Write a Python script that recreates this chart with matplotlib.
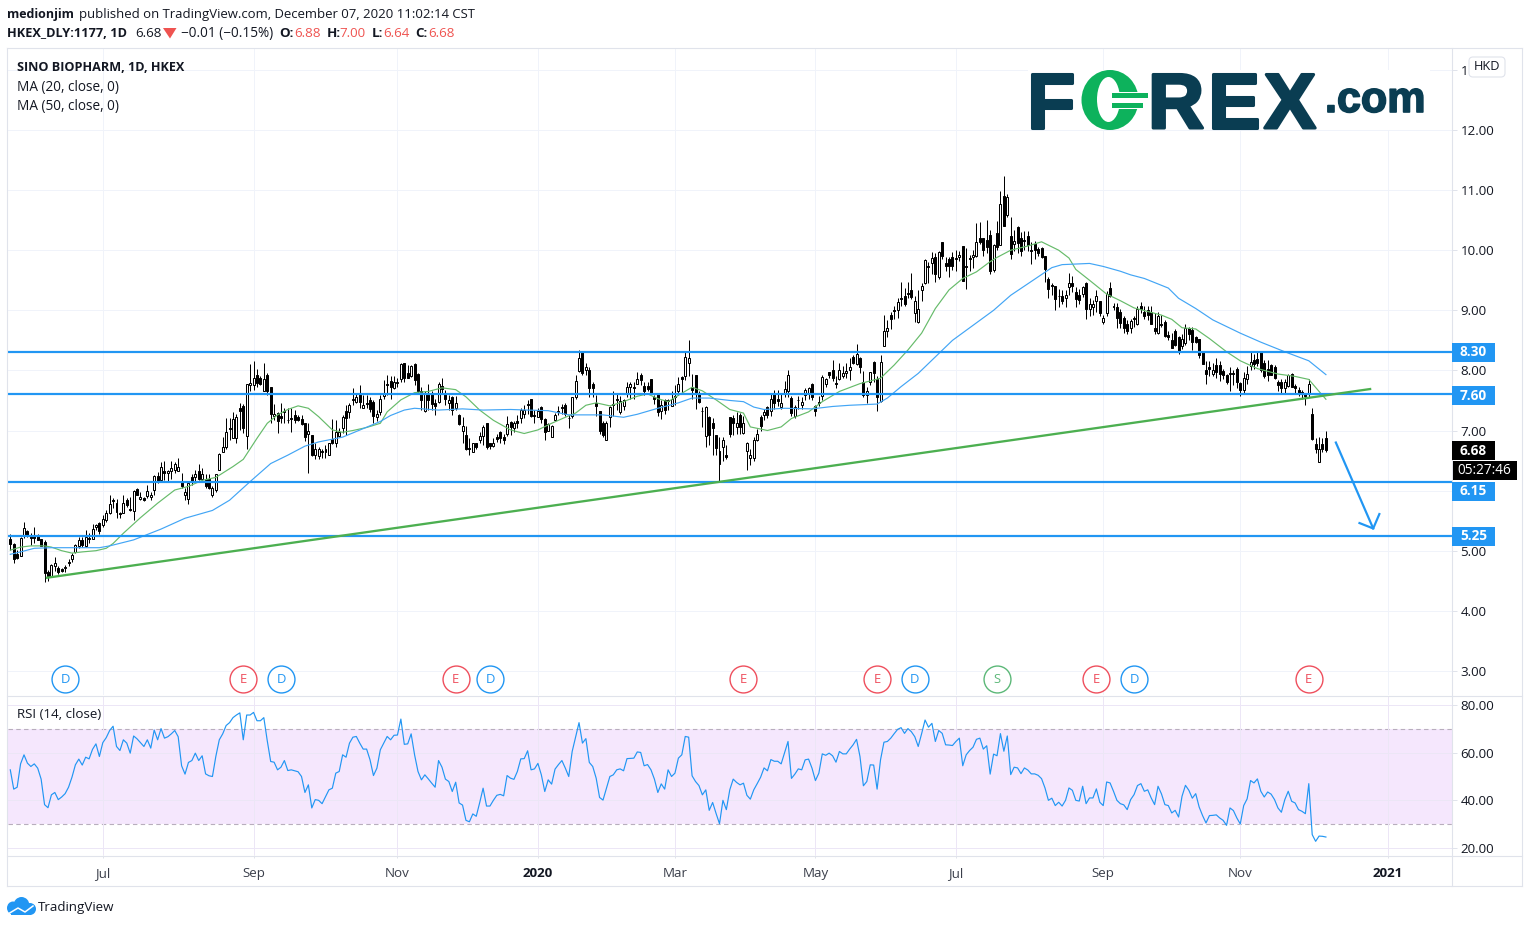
import numpy as np
import matplotlib
matplotlib.use("Agg")
import matplotlib.pyplot as plt
from matplotlib.patches import Ellipse, Rectangle, FancyBboxPatch, Polygon
import matplotlib.patheffects as pe

plt.rcParams['font.family'] = ['Open Sans', 'DejaVu Sans']

# daily candles, one value per bar
opens = [5.19,5.11,4.95,4.92,5.24,5.32,5.26,5.26,5.26,5.19,
         5.15,4.65,4.58,4.75,4.72,4.70,4.72,4.81,4.87,4.98,
         5.07,5.17,5.07,5.21,5.20,5.39,5.46,5.42,5.51,5.62,
         5.85,5.79,5.62,5.63,5.85,5.70,5.66,6.02,5.86,5.87,
         5.91,5.89,6.01,6.25,6.18,6.33,6.29,6.33,6.35,6.33,
         6.14,5.92,5.86,6.22,6.22,6.33,6.20,6.20,6.20,5.92,
         6.01,6.35,6.65,6.73,7.04,6.88,6.88,7.38,7.40,6.91,
         7.76,7.76,7.92,7.87,7.66,7.93,7.72,7.24,7.29,7.24,
         7.32,7.18,7.20,7.25,7.23,7.19,7.12,6.95,6.92,6.59,
         6.58,6.64,6.65,6.59,6.86,6.79,6.91,7.05,7.33,7.31,
         7.50,7.47,7.62,7.38,7.45,7.51,7.47,7.22,7.30,7.58,
         7.77,7.83,7.70,7.80,7.85,8.13,7.95,7.91,8.10,7.94,
         7.65,7.32,7.63,7.63,7.46,7.48,7.74,7.63,7.46,7.56,
         7.38,7.26,7.00,6.92,6.71,6.65,6.79,6.85,6.91,7.12,
         6.79,6.75,6.89,6.98,6.89,6.94,7.14,7.05,7.16,7.21,
         7.28,7.44,7.52,7.26,7.23,7.39,7.19,7.00,6.90,7.17,
         7.32,7.39,7.42,7.21,7.24,7.56,7.99,8.30,8.01,8.00,
         7.78,7.45,7.32,7.12,6.85,7.23,7.44,7.52,7.31,7.41,
         7.63,7.72,7.72,7.78,7.92,7.74,7.74,7.85,7.55,7.62,
         7.33,7.51,7.51,7.41,7.57,7.65,7.89,7.91,8.13,7.72,
         7.92,7.63,7.33,6.91,7.22,7.12,6.93,6.66,6.73,6.59,
         7.22,7.20,7.06,7.25,6.96,6.66,6.55,6.55,6.85,7.23,
         7.26,7.39,7.32,7.61,7.52,7.39,7.63,7.65,7.54,7.24,
         7.50,7.43,7.59,7.63,7.78,7.40,7.47,7.58,7.78,7.97,
         8.01,7.79,7.85,7.91,7.96,8.01,8.22,8.11,8.20,7.81,
         7.59,7.80,8.14,7.85,7.49,8.41,8.66,8.93,9.00,9.00,
         9.21,9.23,9.28,9.34,8.96,8.80,9.33,9.46,9.73,9.79,
         9.88,9.55,10.13,9.79,9.86,9.88,9.87,9.89,10.07,9.73,
         9.87,9.88,9.90,10.21,10.20,10.17,10.25,9.67,10.28,10.09,
         10.90,10.58,10.24,10.10,10.38,10.20,10.17,10.24,10.00,10.10,
         10.02,10.04,9.90,9.52,9.42,9.40,9.24,9.23,9.20,9.38,
         9.45,9.31,9.25,9.27,9.46,9.02,9.05,9.16,9.15,8.80,
         8.96,9.37,9.07,9.05,8.98,8.87,8.78,8.70,8.87,8.78,
         9.07,8.98,9.00,8.98,8.71,8.62,8.78,8.81,8.59,8.51,
         8.66,8.56,8.40,8.45,8.70,8.67,8.55,8.52,8.31,8.00,
         8.05,7.94,8.09,8.09,7.99,7.92,7.94,7.95,8.03,7.79,
         7.68,7.85,8.07,8.17,8.19,8.30,8.12,8.03,8.09,8.06,
         7.81,7.81,7.70,7.74,7.94,7.74,7.68,7.64,7.61,7.63,
         7.27,6.78,6.48,6.78,6.88]
highs = [5.27,5.12,5.01,5.23,5.48,5.35,5.30,5.40,5.27,5.20,
         5.18,4.68,4.78,4.89,4.75,4.71,4.77,4.86,4.96,5.11,
         5.22,5.23,5.35,5.30,5.45,5.45,5.48,5.59,5.68,5.92,
         5.87,5.86,5.65,5.93,5.87,5.90,6.01,6.04,5.98,5.90,
         6.09,5.98,6.26,6.31,6.47,6.50,6.35,6.50,6.48,6.55,
         6.29,6.04,6.15,6.27,6.34,6.44,6.37,6.27,6.28,6.07,
         6.28,6.62,6.89,7.20,7.20,7.30,7.27,7.46,7.44,7.78,
         8.11,8.16,8.03,7.90,8.12,7.95,7.73,7.44,7.31,7.46,
         7.37,7.37,7.37,7.34,7.26,7.25,7.13,7.12,6.93,6.80,
         6.72,6.70,6.76,6.80,7.19,7.17,7.04,7.26,7.42,7.45,
         7.71,7.62,7.76,7.59,7.59,7.55,7.51,7.34,7.59,7.84,
         7.92,7.91,7.91,7.87,8.13,8.13,8.09,8.09,8.12,7.95,
         7.73,7.65,7.78,7.66,7.53,7.80,7.88,7.67,7.59,7.57,
         7.57,7.27,7.22,7.07,6.87,6.80,6.80,6.98,7.09,7.13,
         6.80,6.87,6.94,7.00,6.95,7.24,7.15,7.16,7.26,7.37,
         7.42,7.51,7.52,7.34,7.37,7.41,7.20,7.13,7.09,7.29,
         7.40,7.44,7.46,7.26,7.56,7.92,8.34,8.31,8.13,8.06,
         7.81,7.59,7.32,7.15,7.15,7.41,7.66,7.62,7.57,7.53,
         7.81,7.81,7.80,7.98,7.95,7.81,7.81,7.85,7.59,7.63,
         7.51,7.52,7.53,7.65,7.76,7.89,7.90,8.30,8.51,7.94,
         7.93,7.65,7.39,7.40,7.24,7.20,6.93,6.90,6.90,6.76,
         7.22,7.26,7.31,7.29,7.24,6.81,6.70,6.90,7.02,7.25,
         7.36,7.40,7.62,7.67,7.67,7.61,7.82,8.00,7.57,7.43,
         7.57,7.55,7.71,7.72,7.79,7.43,7.57,7.92,7.87,7.98,
         8.17,7.90,8.12,8.07,8.12,8.20,8.25,8.44,8.22,7.99,
         7.72,7.98,8.15,7.90,8.26,8.92,8.84,8.97,9.08,9.20,
         9.47,9.37,9.47,9.62,9.23,9.33,9.45,9.85,9.80,9.97,
         9.95,9.99,10.14,9.88,9.89,9.97,10.00,9.98,10.07,10.03,
         9.92,10.01,10.45,10.47,10.20,10.50,10.33,10.10,10.49,10.99,
         11.23,10.93,10.56,10.34,10.41,10.30,10.32,10.32,10.13,10.15,
         10.05,10.06,9.90,9.55,9.45,9.41,9.36,9.34,9.34,9.62,
         9.57,9.38,9.36,9.40,9.47,9.20,9.17,9.33,9.16,8.92,
         9.32,9.47,9.12,9.12,9.02,8.90,8.84,8.86,8.90,9.07,
         9.14,9.07,9.08,9.07,8.95,8.98,8.93,8.84,8.65,8.62,
         8.69,8.58,8.60,8.78,8.73,8.72,8.58,8.53,8.32,8.15,
         8.15,8.12,8.20,8.16,8.02,7.94,8.05,8.00,8.05,7.80,
         7.98,8.08,8.32,8.27,8.31,8.31,8.18,8.18,8.10,8.09,
         7.84,7.85,7.85,7.94,7.95,7.78,7.72,7.68,7.63,7.85,
         7.37,6.87,6.89,6.87,7.00]
lows = [5.02,4.80,4.86,4.91,5.21,5.23,5.10,5.12,5.17,5.07,
        4.48,4.50,4.56,4.67,4.62,4.65,4.65,4.75,4.82,4.97,
        5.05,5.06,5.06,5.12,5.19,5.35,5.28,5.40,5.48,5.61,
        5.71,5.54,5.54,5.62,5.73,5.66,5.51,5.92,5.84,5.83,
        5.87,5.84,5.93,6.13,6.17,6.18,6.15,6.19,6.29,6.33,
        6.05,5.84,5.77,6.09,6.15,6.18,6.15,6.04,6.02,5.90,
        5.97,6.34,6.64,6.70,6.84,6.87,6.80,7.01,6.96,6.70,
        7.65,7.67,7.72,7.76,7.65,7.59,7.13,7.17,6.96,7.12,
        7.12,7.12,6.97,7.12,7.15,7.09,6.83,6.30,6.58,6.52,
        6.52,6.55,6.55,6.59,6.78,6.72,6.90,6.96,6.93,7.20,
        7.43,7.45,7.37,7.37,7.37,7.31,7.12,7.15,7.26,7.53,
        7.59,7.53,7.69,7.73,7.80,7.81,7.87,7.89,7.76,7.62,
        7.34,7.31,7.34,7.34,7.26,7.46,7.62,7.42,7.34,7.26,
        7.34,7.09,6.80,6.68,6.60,6.64,6.70,6.79,6.76,6.70,
        6.69,6.73,6.81,6.79,6.78,6.91,6.93,6.98,7.04,7.12,
        7.20,7.28,7.23,7.13,7.22,7.12,6.85,6.99,6.89,7.15,
        7.26,7.27,7.24,7.05,7.20,7.53,7.97,7.93,7.92,7.56,
        7.56,7.24,6.95,6.90,6.84,7.06,7.24,7.34,7.28,7.34,
        7.56,7.53,7.53,7.77,7.76,7.59,7.65,7.61,7.44,7.24,
        7.19,7.28,7.34,7.40,7.42,7.59,7.62,7.84,7.90,7.53,
        7.35,7.46,7.06,6.73,6.76,6.59,6.59,6.15,6.50,6.53,
        6.90,6.93,6.95,6.95,6.94,6.34,6.42,6.50,6.82,7.00,
        7.17,7.20,7.24,7.36,7.40,7.36,7.55,7.55,7.24,7.20,
        7.36,7.36,7.50,7.52,7.50,7.24,7.40,7.50,7.72,7.88,
        7.83,7.71,7.84,7.87,7.88,7.84,8.10,8.09,7.95,7.55,
        7.45,7.75,7.80,7.33,7.47,8.40,8.56,8.69,8.85,8.88,
        9.08,9.07,9.20,9.18,8.80,8.79,9.15,9.44,9.46,9.60,
        9.47,9.52,9.85,9.65,9.55,9.67,9.65,9.82,9.49,9.36,
        9.65,9.70,9.88,10.10,9.90,9.95,9.60,9.64,10.00,10.08,
        10.40,10.55,9.86,9.99,9.95,9.90,10.00,9.99,9.77,9.85,
        9.90,9.87,9.47,9.20,9.25,9.00,9.05,9.10,9.05,9.25,
        9.30,9.05,9.11,9.22,8.85,8.90,8.92,8.98,8.90,8.78,
        8.90,9.22,9.00,8.70,8.70,8.62,8.60,8.62,8.72,8.76,
        8.95,8.85,8.84,8.78,8.60,8.60,8.72,8.55,8.50,8.37,
        8.40,8.28,8.35,8.43,8.50,8.34,8.45,8.20,8.10,7.77,
        7.90,7.90,7.87,7.83,7.85,7.77,7.66,7.76,7.70,7.58,
        7.60,7.78,8.00,8.03,8.08,7.98,7.87,7.82,7.92,7.86,
        7.65,7.63,7.63,7.72,7.72,7.62,7.58,7.53,7.42,7.56,
        6.85,6.63,6.48,6.65,6.64]
closes = [5.11,4.87,4.88,5.21,5.37,5.26,5.21,5.21,5.18,5.08,
          4.63,4.58,4.76,4.79,4.65,4.67,4.73,4.79,4.93,5.09,
          5.17,5.09,5.22,5.20,5.36,5.42,5.32,5.52,5.62,5.77,
          5.83,5.65,5.61,5.80,5.76,5.67,5.99,5.93,5.90,5.85,
          5.99,5.93,6.25,6.15,6.39,6.29,6.33,6.37,6.44,6.39,
          6.07,5.97,6.13,6.15,6.27,6.20,6.27,6.07,6.04,6.04,
          6.27,6.61,6.72,6.97,7.02,7.19,7.23,7.32,7.05,7.77,
          7.79,7.87,7.79,7.77,7.86,7.66,7.27,7.28,7.16,7.21,
          7.30,7.17,7.19,7.17,7.18,7.11,6.90,6.99,6.59,6.70,
          6.69,6.65,6.70,6.79,6.79,6.98,6.98,7.23,7.20,7.43,
          7.53,7.55,7.47,7.43,7.44,7.35,7.24,7.27,7.52,7.62,
          7.76,7.72,7.81,7.79,8.10,7.87,7.88,8.07,7.84,7.65,
          7.51,7.63,7.51,7.44,7.41,7.78,7.69,7.52,7.51,7.34,
          7.45,7.11,7.08,6.70,6.70,6.79,6.72,6.91,7.06,6.73,
          6.75,6.80,6.86,6.87,6.84,7.11,7.06,7.12,7.13,7.34,
          7.34,7.42,7.24,7.24,7.32,7.19,6.98,7.11,7.07,7.26,
          7.31,7.37,7.28,7.20,7.55,7.82,8.20,7.96,8.06,7.70,
          7.70,7.41,7.00,6.92,7.13,7.39,7.42,7.51,7.49,7.51,
          7.72,7.78,7.70,7.85,7.84,7.66,7.69,7.62,7.52,7.31,
          7.42,7.34,7.49,7.52,7.55,7.78,7.85,8.22,8.20,7.68,
          7.62,7.48,7.32,7.39,6.93,7.05,6.71,6.45,6.84,6.56,
          6.94,7.13,7.12,7.06,7.12,6.80,6.60,6.85,6.95,7.07,
          7.31,7.26,7.52,7.45,7.49,7.45,7.69,7.93,7.29,7.39,
          7.51,7.47,7.67,7.70,7.55,7.32,7.46,7.89,7.85,7.92,
          7.87,7.78,8.01,7.95,7.99,8.06,8.13,8.27,8.05,7.59,
          7.65,7.97,7.95,7.56,8.14,8.66,8.70,8.85,8.99,9.13,
          9.19,9.11,9.27,9.22,9.16,9.03,9.41,9.84,9.72,9.87,
          9.61,9.97,9.90,9.73,9.74,9.74,9.86,9.92,9.49,9.72,
          9.85,9.92,10.13,10.14,10.00,10.06,9.65,10.09,10.05,10.77,
          10.41,10.88,9.94,10.15,10.12,9.98,10.15,10.09,9.99,10.00,
          9.95,9.89,9.68,9.36,9.40,9.18,9.23,9.15,9.26,9.45,
          9.40,9.18,9.17,9.38,9.02,9.10,9.11,9.24,8.95,8.88,
          9.27,9.24,9.06,8.88,8.79,8.70,8.66,8.82,8.86,9.03,
          9.02,8.91,8.92,8.78,8.66,8.91,8.76,8.57,8.55,8.38,
          8.42,8.30,8.53,8.70,8.60,8.48,8.48,8.26,8.11,7.94,
          8.02,8.00,7.98,7.94,7.92,7.80,7.96,7.94,7.80,7.67,
          7.87,7.94,8.14,8.10,8.12,8.00,7.91,7.92,7.93,7.87,
          7.76,7.70,7.80,7.92,7.73,7.70,7.63,7.60,7.57,7.78,
          6.86,6.70,6.70,6.69,6.68]

# moving averages, read at the bends of each line (bar number, price)
ma20_x = [0,3,6,10,12,15,18,21,25,28,30,33,38,43,48,52,56,60,65,68,72,75,78,81,84,87,90,94,97,100,
          104,108,110,114,118,122,126,130,133,137,141,146,150,154,158,162,165,168,171,175,179,183,
          186,189,192,196,199,202,206,210,214,216,221,225,228,233,237,242,248,254,258,262,266,270,
          274,278,282,286,288,292,297,301,306,309,311,315,320,324,328,336,339,342,346,350,355,359,
          364,370,375,379,382,384]
ma20_y = [5.01,5.06,5.08,5.08,5.06,5.00,4.96,4.98,5.00,5.04,5.12,5.29,5.55,5.79,6.01,6.07,6.17,6.22,6.40,6.52,
          6.87,7.12,7.26,7.35,7.41,7.37,7.23,7.01,6.97,7.00,7.05,7.12,7.31,7.51,7.63,7.65,7.71,7.68,
          7.56,7.34,7.17,7.01,6.95,7.01,7.12,7.22,7.29,7.42,7.46,7.41,7.48,7.57,7.61,7.53,7.48,7.62,
          7.72,7.66,7.51,7.35,7.29,7.06,7.00,7.06,7.20,7.31,7.48,7.65,7.78,7.87,8.09,8.34,8.62,9.03,
          9.34,9.53,9.64,9.81,9.88,10.00,10.07,10.14,10.00,9.87,9.68,9.50,9.27,9.16,9.04,8.92,8.85,
          8.71,8.69,8.53,8.31,8.16,8.03,7.94,7.90,7.85,7.65,7.52]
ma50_x = [0,3,7,12,18,26,29,36,44,51,59,64,70,76,81,86,90,97,100,108,111,115,118,125,132,138,146,151,157,
          163,173,179,183,189,195,199,204,210,214,217,220,226,234,240,245,253,256,260,265,269,275,281,
          287,292,298,304,307,315,319,324,327,331,338,341,346,351,359,365,372,379,384]
ma50_y = [4.94,4.98,5.04,5.05,5.05,5.05,5.08,5.18,5.36,5.54,5.67,5.84,6.15,6.45,6.59,6.74,6.81,6.89,6.96,7.15,
          7.25,7.34,7.37,7.34,7.36,7.34,7.35,7.34,7.33,7.26,7.26,7.22,7.27,7.37,7.46,7.54,7.54,7.50,7.48,
          7.39,7.35,7.37,7.36,7.40,7.42,7.44,7.54,7.73,7.95,8.17,8.50,8.75,9.00,9.25,9.48,9.71,9.76,9.78,
          9.73,9.65,9.59,9.53,9.37,9.20,9.03,8.84,8.62,8.47,8.31,8.16,7.93]

rsi = [52.8,44.7,45.5,55.3,59.1,55.6,54.2,55.3,53.5,48.9,
       38.2,36.9,42.3,43.3,40.3,41.4,42.8,45.5,49.7,54.9,
       57.3,54.8,58.1,57.4,61.4,63.7,58.4,64.2,66.3,69.3,
       71.1,62.6,60.9,65.4,64,59.8,67,65.8,64.2,62.6,
       65.4,61.9,69.5,65.4,70.1,66.1,66.7,67.9,69.3,66.7,
       54.5,51,55.9,56.7,59.8,56.7,58.7,51.1,50.3,50,
       58.5,65.4,67.9,71.4,72.6,74.7,75.8,76.7,65.4,75.8,
       75.8,76.9,73.4,73.4,74.7,65,56.3,56,52.8,53.9,
       56.7,52.5,52.8,52.4,52,50,43.3,46.5,36.8,40.3,
       40,38.6,41.5,44.4,45.1,51.4,52.1,59.1,58.1,64,
       66.5,66.8,64,61.5,61.5,57,50.4,53.5,61.2,64,
       66.8,65.4,67.3,67.4,74.1,63.5,63.7,67.9,59.1,52.1,
       48.6,50.7,49,47.2,45.5,56.7,53.9,48.9,47.9,43.7,
       47.6,38.9,38,31.6,31,34.3,33.3,39,45.1,37.6,
       37.6,40,42.1,42.5,41.9,50.4,49.3,48.8,52.1,57.4,
       57.5,60.8,52.8,53.2,55.5,50.7,43.7,48.6,46.8,53.1,
       55,56.7,53.5,50,60.5,66.5,72.6,64,65.9,55.9,
       54.2,49.3,41.2,40.1,45,50,50.7,52.8,53.2,52.4,
       57.5,57.6,57.7,60.3,60.1,54.5,55,52.8,48.9,43.3,
       46.9,44.7,52.8,50,51.4,57.7,59.1,66.8,66.5,50.3,
       47.9,46.2,42.3,44.4,35.8,39.1,34.5,30.2,40,36.1,
       44.4,48.9,47.5,46.5,47.2,42.1,40.5,44.4,47,49.7,
       53.6,52.4,57.1,56.4,56.4,55.3,60,64.7,49.2,51,
       53.2,52.8,57,57.3,53.5,48.3,51.4,59.5,58.9,59.8,
       58.7,56,60.5,59.5,59.5,61.5,63.3,65.6,58.4,46.1,
       47.9,54.9,54.8,44.7,57,64.4,64.7,66.1,68,69.8,
       70.5,68.1,70.1,68.8,66.7,62.6,68,73.7,70.7,72.3,
       64.7,69.3,68.1,63.3,63.2,63,64.7,66.1,54.5,59.1,
       60.9,62.3,65.6,66.1,61.5,62.9,51,59.4,58.7,68,
       60.6,67,50.8,53.9,53.6,51.2,53.6,52.7,51.1,51.1,
       50.5,49.1,45.2,40,40.9,37.8,39.2,37.6,40,45.2,
       44.2,40,39.7,45.9,38.6,41,41,44.8,39.2,37.8,
       47.7,47.3,43.8,40,38.6,38.1,36.1,40.3,42.4,46.2,
       47,43.8,44.4,41,38.2,45.9,42.7,38.2,37.8,34.7,
       35.8,33,41.7,46.3,44.2,40.9,42.8,37.2,33.6,30.5,
       33.6,33.7,33.9,32.6,31.6,29.5,36.8,35.7,32.6,30.1,
       37.8,40.6,48.3,47.3,49,43.8,41.4,43.5,42.6,40.3,
       36.8,35,40.3,43.8,39.6,38.9,36.1,35.4,34.4,47,
       25.6,22.8,25,24.9,24.6]

levels = [8.30, 7.60, 6.15, 5.25]
trend_x = [10.7, 396.9]
trend_y = [4.55, 7.69]
arrow_x = [386.9, 397.8]
arrow_y = [6.80, 5.37]
arrow_head_x = [393.8, 397.8, 399.6]
arrow_head_y = [5.46, 5.37, 5.61]

price_ticks = [3, 4, 5, 6, 7, 8, 9, 10, 11, 12, 13]
rsi_ticks = [20, 40, 60, 80]
time_ticks = [27, 71, 113, 154, 194, 235, 276, 319, 359, 402]
time_labels = ['Jul', 'Sep', 'Nov', '2020', 'Mar', 'May', 'Jul', 'Sep', 'Nov', '2021']
event_x = [16, 68, 79, 130, 140, 214, 253, 264, 288, 317, 328, 379]
event_kind = ['D', 'E', 'D', 'E', 'D', 'E', 'E', 'D', 'S', 'E', 'D', 'E']
event_col = {'D': '#2196f3', 'E': '#ef4f5d', 'S': '#5cb878'}

W, H = 1530, 927
GRID = '#f0f3fa'
EDGE = '#e0e3eb'
TXT = '#131722'
BLUE = '#2196f3'
RED = '#ef5350'
px = 0.72   # one pixel in points at dpi 100


def frac(x0, y0, x1, y1):
    return [x0 / W, 1 - y1 / H, (x1 - x0) / W, (y1 - y0) / H]


fig = plt.figure(figsize=(W / 100, H / 100), dpi=100, facecolor='white')
ax = fig.add_axes(frac(8, 49, 1452, 695))
ar = fig.add_axes(frac(8, 696, 1452, 855))
ov = fig.add_axes([0, 0, 1, 1], zorder=5)
ov.set_xlim(0, W)
ov.set_ylim(H, 0)
ov.axis('off')
ov.patch.set_alpha(0)

xlim = (-0.67, 420.8)
n = np.arange(len(closes))
o = np.array(opens)
c = np.array(closes)

# price pane
ax.set_xlim(xlim)
ax.set_ylim(2.599, 13.348)
ax.set_xticks(time_ticks)
ax.set_yticks(price_ticks)
# the 13.00 label is hidden by the currency button, only its first digit shows
ax.set_yticklabels(['%.2f' % t if t < 13 else '1' for t in price_ticks])
ax.grid(True, color=GRID, lw=1 * px)
ax.set_axisbelow(True)
ax.tick_params(axis='x', length=0, labelbottom=False)
ax.tick_params(axis='y', left=False, labelleft=False, right=True, labelright=True,
               length=5 * px, width=px, color=EDGE, labelcolor=TXT, labelsize=9.6, pad=2.5)
for s in ax.spines.values():
    s.set_visible(False)

wicks = ax.vlines(n, lows, highs, color='black', lw=px, zorder=2)
wicks.set_snap(True)
bodies = ax.bar(n, np.maximum(np.abs(c - o), 0.012), bottom=np.minimum(o, c), width=0.58,
                color=['black' if a < b else 'white' for a, b in zip(c, o)],
                edgecolor='black', linewidth=px, zorder=3)
for b in bodies:
    b.set_snap(True)
ax.plot(ma20_x, ma20_y, color='#66bb6a', lw=0.85, zorder=4)
ax.plot(ma50_x, ma50_y, color='#42a5f5', lw=0.85, zorder=4)
for lev in levels:
    ax.axhline(lev, color=BLUE, lw=2.2 * px, zorder=5)
ax.plot(trend_x, trend_y, color='#4caf50', lw=2.3 * px, zorder=6)
ax.plot(arrow_x, arrow_y, color=BLUE, lw=2.2 * px, zorder=6)
ax.plot(arrow_head_x, arrow_head_y, color=BLUE, lw=2.2 * px, zorder=6)

# earnings / dividend / split markers
for x, k in zip(event_x, event_kind):
    ax.scatter([x], [2.865], s=375, facecolor='white', edgecolor=event_col[k], linewidth=1.0, zorder=7)
    ax.text(x, 2.865, k, color=event_col[k], fontsize=9.4, ha='center', va='center', zorder=8)

# rsi pane
ar.set_xlim(xlim)
ar.set_ylim(17.06, 83.78)
ar.axhspan(30, 70, color='#f5e7fd', lw=0, zorder=1)
ar.axhline(70, color='#b8aebd', lw=0.8, dashes=(4, 3), zorder=2)
ar.axhline(30, color='#b8aebd', lw=0.8, dashes=(4, 3), zorder=2)
ar.set_xticks(time_ticks)
ar.set_xticklabels(time_labels)
ar.set_yticks(rsi_ticks)
ar.set_yticklabels(['%.2f' % t for t in rsi_ticks])
ar.grid(True, color=GRID, lw=1 * px)
ar.set_axisbelow(False)
for g in ar.get_xgridlines() + ar.get_ygridlines():
    g.set_zorder(1.5)
    g.set_color('#ece6f6')
ar.tick_params(axis='y', left=False, labelleft=False, right=True, labelright=True,
               length=5 * px, width=px, color=EDGE, labelcolor=TXT, labelsize=9.6, pad=2.5)
ar.tick_params(axis='x', length=3 * px, width=px, color=EDGE, labelcolor='#3a3e4a', labelsize=9.6, pad=6.5)
for lab in ar.get_xticklabels():
    if lab.get_text().startswith('20'):
        lab.set_fontweight('bold')
        lab.set_color(TXT)
for s in ar.spines.values():
    s.set_visible(False)
ar.plot(n, rsi, color=BLUE, lw=0.85, zorder=4)

# frame
for xs, ys in [((7, 1522), (48, 48)), ((7, 1522), (886, 886)), ((7, 7), (48, 886)), ((1522, 1522), (48, 886)),
               ((1452.5, 1452.5), (48, 886)), ((7, 1522), (695.5, 695.5)), ((7, 1522), (855.5, 855.5))]:
    ov.plot(xs, ys, color=EDGE, lw=1.1 * px, zorder=1)

# heading rows
ov.text(7, 14.5, 'medionjim', fontsize=9.0, fontweight='bold', color=TXT, va='center')
ov.text(79, 14.5, 'published on TradingView.com, December 07, 2020 11:02:14 CST', fontsize=9.45, color=TXT, va='center')
ov.text(7, 33.5, 'HKEX_DLY:1177, 1D', fontsize=9.2, fontweight='bold', color=TXT, va='center')
ov.text(135, 33.5, '6.68', fontsize=9.6, color=TXT, va='center')
ov.add_patch(Polygon([(163, 28), (176.5, 28), (170, 38.5)], closed=True, color=RED, lw=0))
ov.text(181, 33.5, '\u22120.01 (\u22120.15%)', fontsize=9.8, color=TXT, va='center')
for x, lab in [(279, 'O:'), (327, 'H:'), (372, 'L:'), (415, 'C:')]:
    ov.text(x, 33.5, lab, fontsize=9.6, fontweight='bold', color=TXT, va='center')
for x, lab in [(294, '6.88'), (339, '7.00'), (383, '6.64'), (428, '6.68')]:
    ov.text(x, 33.5, lab, fontsize=9.6, color=RED, va='center')

ov.text(17, 67.5, 'SINO BIOPHARM, 1D, HKEX', fontsize=9.1, fontweight='bold', color=TXT, va='center')
ov.text(17, 87, 'MA (20, close, 0)', fontsize=9.8, color=TXT, va='center')
ov.text(17, 106, 'MA (50, close, 0)', fontsize=9.8, color=TXT, va='center')
ov.text(17, 714.5, 'RSI (14, close)', fontsize=9.6, color=TXT, va='center')

# price labels on the right axis
for yc, lab in [(352.5, '8.30'), (395.5, '7.60'), (491, '6.15'), (536.5, '5.25')]:
    ov.add_patch(Rectangle((1452, yc - 9.5), 43, 19, color=BLUE, lw=0, zorder=3))
    ov.text(1473.5, yc, lab, color='white', fontsize=9.8, fontweight='bold', ha='center', va='center', zorder=4)
ov.add_patch(Rectangle((1452, 441), 43, 19, color='black', lw=0, zorder=3))
ov.text(1473.5, 450.5, '6.68', color='white', fontsize=9.8, fontweight='bold', ha='center', va='center', zorder=4)
ov.add_patch(Rectangle((1453, 461), 64, 19, color='black', lw=0, zorder=3))
ov.text(1484, 470.5, '05:27:46', color='white', fontsize=9.8, ha='center', va='center', zorder=4)

# currency button
ov.add_patch(FancyBboxPatch((1470.5, 58.5), 33, 17, boxstyle='round,pad=1.5,rounding_size=4',
                            facecolor='white', edgecolor=EDGE, lw=0.8, zorder=3))
ov.text(1487, 66.5, 'HKD', color=TXT, fontsize=9.2, ha='center', va='center', zorder=4)

# FOREX.com mark
NAVY = '#0a3d52'
GREEN = '#0db25c'
ov.add_patch(Rectangle((1028, 70), 402, 60, color='white', lw=0, zorder=2))
for x, lab in [(1027, 'F'), (1148, 'R'), (1208, 'E'), (1264, 'X')]:
    ov.text(x, 128, lab, color=NAVY, fontsize=56, fontweight='bold', family='Liberation Sans', va='baseline', ha='left', zorder=3,
            path_effects=[pe.withStroke(linewidth=2.2, foreground=NAVY)])
ov.add_patch(Ellipse((1110, 100), 57, 60, color=GREEN, lw=0, zorder=3))
ov.add_patch(Ellipse((1108.5, 99.5), 23, 45, color='white', lw=0, zorder=4))
ov.add_patch(Rectangle((1112, 98), 29, 5, color='white', lw=0, zorder=4))
ov.add_patch(Rectangle((1112, 91.8), 29, 1.2, color='white', lw=0, zorder=4))
ov.add_patch(Rectangle((1112, 108), 29, 1.2, color='white', lw=0, zorder=4))
ov.add_patch(Rectangle((1112, 93), 36, 5, color=GREEN, lw=0, zorder=5))
ov.add_patch(Rectangle((1112, 103), 31, 5, color=GREEN, lw=0, zorder=5))
ov.text(1325, 112, '.com', color=NAVY, fontsize=31, fontweight='bold', family='Liberation Sans', va='baseline', ha='left', zorder=3,
        path_effects=[pe.withStroke(linewidth=1.2, foreground=NAVY)])

# TradingView mark
for xc, yc, w, h in [(13, 908, 12, 13), (21.5, 905.5, 16, 17), (30, 909, 12, 12)]:
    ov.add_patch(Ellipse((xc, yc), w, h, color=BLUE, lw=0, zorder=3))
ov.add_patch(Rectangle((11, 907), 20, 8, color=BLUE, lw=0, zorder=3))
ov.plot([8, 18, 25, 33], [914, 908, 912, 906], color='white', lw=1.1, zorder=4)
ov.text(38, 907, 'TradingView', color=TXT, fontsize=9.6, va='center', zorder=4)

fig.savefig('out.png', dpi=100)
